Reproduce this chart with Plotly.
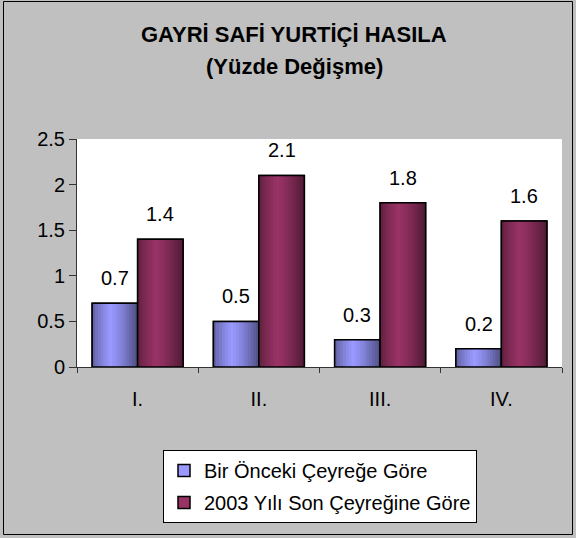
import plotly.graph_objects as go

categories = ["I.", "II.", "III.", "IV."]
series1_name = "Bir Önceki Çeyreğe Göre"
series1 = [0.7, 0.5, 0.3, 0.2]
series2_name = "2003 Yılı Son Çeyreğine Göre"
series2 = [1.4, 2.1, 1.8, 1.6]
y_ticks = [0, 0.5, 1, 1.5, 2, 2.5]

FONT = "Liberation Sans, Arial, sans-serif"
FS = 20
W, H = 576, 538
L, R, T, B = 77, 14, 139, 171
pw, ph = W - L - R, H - T - B

BAR_W = 0.375          # width of one bar in category units
N_STRIPS = 16          # strips used to imitate the cylinder-like shading


def shade(rgb, t):
    # brightness profile across the bar (dark edges, bright at ~40%)
    if t < 0.4:
        f = 0.58 + 0.42 * (t / 0.4) ** 0.7
    else:
        f = 1.0 - 0.5 * ((t - 0.4) / 0.6) ** 1.3
    return "rgb({},{},{})".format(*[int(round(c * f)) for c in rgb])


fig = go.Figure()
series = [(series1_name, series1, (153, 153, 255), -BAR_W),
          (series2_name, series2, (153, 51, 102), 0.0)]

for name, vals, rgb, off in series:
    base = "rgb({},{},{})".format(*rgb)
    fig.add_trace(go.Bar(x=categories, y=vals, name=name, legendgroup=name,
                         offset=off, width=BAR_W,
                         marker=dict(color=base, line=dict(color="black", width=1.5))))
    sw = BAR_W / N_STRIPS
    for k in range(N_STRIPS):
        t = (k + 0.5) / N_STRIPS
        fig.add_trace(go.Bar(x=categories, y=vals, legendgroup=name, showlegend=False,
                             offset=off + k * sw, width=sw * 1.15, hoverinfo="skip",
                             marker=dict(color=shade(rgb, t), line=dict(width=0))))
    fig.add_trace(go.Bar(x=categories, y=vals, legendgroup=name, showlegend=False,
                         offset=off, width=BAR_W, hoverinfo="skip",
                         marker=dict(color="rgba(0,0,0,0)", line=dict(color="black", width=1.5))))

bw_px = pw / len(categories) * BAR_W
for vals, sh in ((series1, -bw_px / 2), (series2, bw_px / 2)):
    for c, v in zip(categories, vals):
        fig.add_annotation(x=c, y=v, xref="x", yref="y", text=f"{v}", showarrow=False,
                           xshift=sh, yshift=12, yanchor="bottom",
                           font=dict(family=FONT, size=FS, color="black"))


def px2paper_x(p):
    return (p - L) / pw


def px2paper_y(p):
    return (H - B - p) / ph


fig.add_annotation(x=px2paper_x(294), y=px2paper_y(35), xref="paper", yref="paper",
                   text="<b>GAYRİ SAFİ YURTİÇİ HASILA</b>", showarrow=False,
                   xanchor="center", yanchor="middle",
                   font=dict(family=FONT, size=22, color="black"))
fig.add_annotation(x=px2paper_x(294), y=px2paper_y(67), xref="paper", yref="paper",
                   text="<b>(Yüzde Değişme)</b>", showarrow=False,
                   xanchor="center", yanchor="middle",
                   font=dict(family=FONT, size=22, color="black"))

fig.add_shape(type="rect", xref="paper", yref="paper",
              x0=px2paper_x(3.5), x1=px2paper_x(572.5), y0=px2paper_y(534.5), y1=px2paper_y(1.5),
              line=dict(color="black", width=1), fillcolor="rgba(0,0,0,0)", layer="below")

fig.update_layout(
    width=W, height=H,
    margin=dict(l=L, r=R, t=T, b=B),
    paper_bgcolor="#C0C0C0", plot_bgcolor="white",
    barmode="overlay",
    font=dict(family=FONT, size=FS, color="black"),
    showlegend=True,
    legend=dict(x=px2paper_x(163), y=px2paper_y(450), xanchor="left", yanchor="top",
                orientation="v", bgcolor="white", bordercolor="black", borderwidth=1,
                font=dict(family=FONT, size=FS, color="black"),
                traceorder="grouped", tracegroupgap=3, itemwidth=30),
    xaxis=dict(showline=True, linecolor="#333333", linewidth=1, ticks="outside",
               tickson="boundaries", ticklen=5, tickcolor="#333333",
               showgrid=False, tickfont=dict(family=FONT, size=FS), ticklabelstandoff=14),
    yaxis=dict(range=[0, 2.5], tickvals=y_ticks, ticktext=[f"{t:g}" for t in y_ticks],
               showline=True, linecolor="#333333", linewidth=1, ticks="outside",
               ticklen=7, tickcolor="#333333", showgrid=False, zeroline=False,
               tickfont=dict(family=FONT, size=FS)),
)

fig.write_html("out.html", config={"displayModeBar": False},
               post_script="document.body.style.margin='0';")
